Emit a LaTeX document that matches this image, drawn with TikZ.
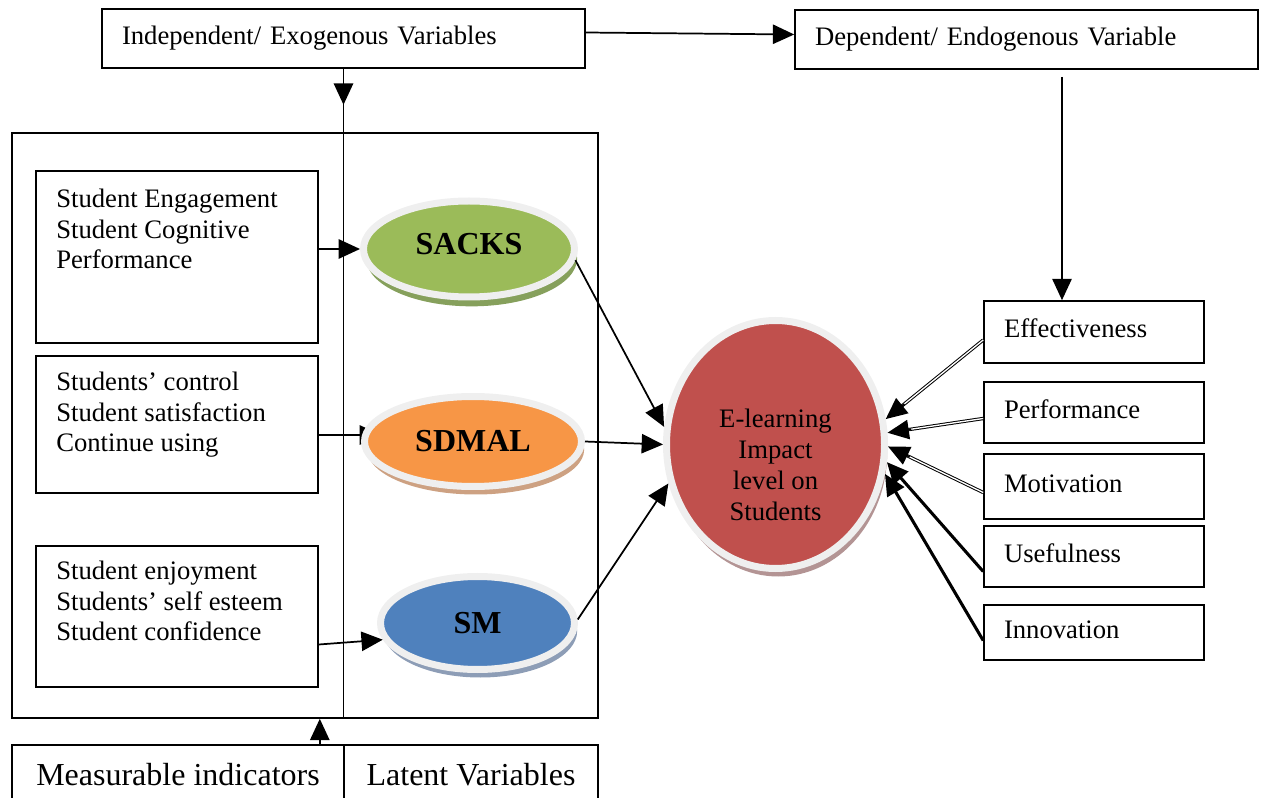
\documentclass[tikz,border=0pt]{standalone}
\usepackage{fontspec}
\setmainfont{Liberation Serif}
\usetikzlibrary{arrows.meta,shapes.geometric,shadows,calc,backgrounds}

\definecolor{sackgreen}{HTML}{9BBB59}
\definecolor{sackshade}{HTML}{86A05C}
\definecolor{sdmalorange}{HTML}{F79646}
\definecolor{sdmalshade}{HTML}{CDA182}
\definecolor{smblue}{HTML}{4F81BD}
\definecolor{smshade}{HTML}{8D9DB6}
\definecolor{impactred}{HTML}{C0504D}
\definecolor{impactshade}{HTML}{B39494}
\definecolor{ringgray}{HTML}{EFEFEF}

\tikzset{
  plainbox/.style={draw, line width=1.2pt, inner sep=0pt},
  txt/.style={font=\fontsize{20}{22.75}\selectfont, inner sep=0pt, align=left},
  bigtxt/.style={font=\fontsize{24}{26}\selectfont},
  latent/.style={ellipse, draw=ringgray, line width=5.25pt, inner sep=0pt,
    font=\fontsize{24}{26}\selectfont\bfseries},
  arr/.style={line width=1.3pt, -{Triangle[length=16pt,width=14.5pt]}},
  dblline/.style={line width=0.75pt, double, double distance=1pt, shorten >=14pt},
  fatarr/.style={line width=2.3pt, -{Triangle[length=16pt,width=14.5pt]}},
}

\begin{document}
\begin{tikzpicture}[x=0.75pt,y=0.75pt,yscale=-1,xscale=1]
\useasboundingbox (0,0) rectangle (1261,798);

%Top boxes
\node[plainbox, txt, minimum width=362.25pt, minimum height=44.25pt, text width=332.25pt, inner xsep=15pt] (indep) at (343.5,38.5) {Independent/ Exogenous Variables};
\node[plainbox, txt, minimum width=347.25pt, minimum height=44.25pt, text width=317.25pt, inner xsep=15pt] (dep) at (1026.5,39.5) {Dependent/ Endogenous Variable};

%Outer frame
\node[plainbox, minimum width=439.5pt, minimum height=438.75pt] (frame) at (305,425.5) {};

%Indicator boxes
\node[plainbox, minimum width=211.5pt, minimum height=129pt] (ind1) at (177,257) {};
\node[plainbox, minimum width=211.5pt, minimum height=102.75pt] (ind2) at (177,424.5) {};
\node[plainbox, minimum width=211.5pt, minimum height=105.75pt] (ind3) at (177,616.5) {};

% Text Node
\node[txt, anchor=north west] (ind1txt) at (56,189) {Student Engagement\\Student Cognitive\\Performance};
% Text Node
\node[txt, anchor=north west] (ind2txt) at (56,372) {Students' control\\Student satisfaction\\Continue using};
% Text Node
\node[txt, anchor=north west] (ind3txt) at (56,561) {Student enjoyment\\Students' self esteem\\Student confidence};

%Latent variables
\node[latent, fill=sackgreen, minimum width=158.25pt, minimum height=72pt,
  drop shadow={shadow xshift=2pt, shadow yshift=-7pt, opacity=1, fill=sackshade}] (sacks) at (469,249) {};
\node[latent, fill=sdmalorange, minimum width=162.75pt, minimum height=67.5pt,
  drop shadow={shadow xshift=2pt, shadow yshift=-6pt, opacity=1, fill=sdmalshade}] (sdmal) at (473,441.5) {SDMAL};
\node[latent, fill=smblue, minimum width=145.5pt, minimum height=69.75pt,
  drop shadow={shadow xshift=2pt, shadow yshift=-6pt, opacity=1, fill=smshade}] (sm) at (477.5,623) {SM};
% Text Node
\node[font=\fontsize{24}{26}\selectfont\bfseries, inner sep=0pt] (sackstxt) at (469,244) {SACKS};

%Impact
\node[latent, fill=impactred, minimum width=163.5pt, minimum height=186pt,
  drop shadow={shadow xshift=2pt, shadow yshift=-6pt, opacity=1, fill=impactshade}] (elearn) at (775.5,444.5) {};
% Text Node
\node[txt, align=center, font=\fontsize{20}{23.25}\selectfont] (elearntxt) at (775.5,465) {E-learning\\Impact\\level on\\Students};

%Outcome boxes
\tikzset{outbox/.style={plainbox, txt, minimum width=165pt, text width=135pt, inner xsep=15pt, text height=14pt, text depth=5pt}}
\node[outbox, minimum height=46.5pt] (eff) at (1094,332) {Effectiveness};
\node[outbox, minimum height=45.75pt] (perf) at (1094,412.5) {Performance};
\node[outbox, minimum height=48.75pt] (motiv) at (1094,486.5) {Motivation};
\node[outbox, minimum height=45.75pt] (useful) at (1094,556.5) {Usefulness};
\node[outbox, minimum height=41.25pt] (innov) at (1094,632.5) {Innovation};

%Bottom boxes
\node[plainbox, bigtxt, minimum width=249pt, minimum height=45pt] (meas) at (178,775) {Measurable indicators};
\node[plainbox, bigtxt, minimum width=190.5pt, minimum height=45pt] (latvar) at (471,775) {Latent Variables};

%Straight Lines
\draw[arr] ($(indep.east)+(0,-6)$) -- ($(dep.west)+(0,-5)$);
\draw[line width=1.2pt] (indep.south) -- (indep.south |- frame.south);
\draw[arr] (indep.south) -- ($(indep.south)+(0,36)$);
\coordinate (depfoot) at (1062,77);
\draw[arr] (depfoot) -- (depfoot |- eff.north);
\coordinate (upfoot) at ($(meas.north east)+(-25,0)$);
\draw[arr] (upfoot) -- (upfoot |- frame.south);

%Indicators to latent variables
\draw[arr] (ind1.east |- sacks.west) -- (sacks.west);
\begin{pgfonlayer}{background}
\draw[arr] ($(ind2.east)+(0,10.5)$) -- ($(sdmal.west)+(20,-6.5)$);
\end{pgfonlayer}
\draw[arr] ($(ind3.east)+(0,28)$) -- (sm.190);

%Latent variables to impact
\draw[arr] (sacks.-6) -- (elearn.171);
\draw[arr] (sdmal.east) -- (elearn.west);
\draw[arr] (sm.2) -- (elearn.-160);

%Outcomes to impact
\coordinate (effout) at ($(eff.west)+(0,8)$);
\coordinate (perfout) at ($(perf.west)+(0,6)$);
\coordinate (motivout) at ($(motiv.west)+(0,6)$);
\draw[dblline] (effout) -- (elearn.13);
\draw[arr] ($(elearn.13)!18pt!(effout)$) -- (elearn.13);
\draw[dblline] (perfout) -- (elearn.6);
\draw[arr] ($(elearn.6)!18pt!(perfout)$) -- (elearn.6);
\draw[dblline] (motivout) -- (elearn.-1);
\draw[arr] ($(elearn.-1)!18pt!(motivout)$) -- (elearn.-1);
\draw[fatarr] ($(useful.west)+(0,15)$) -- (elearn.-9);
\draw[fatarr] ($(innov.west)+(0,8)$) -- (elearn.-15);

\end{tikzpicture}
\end{document}
